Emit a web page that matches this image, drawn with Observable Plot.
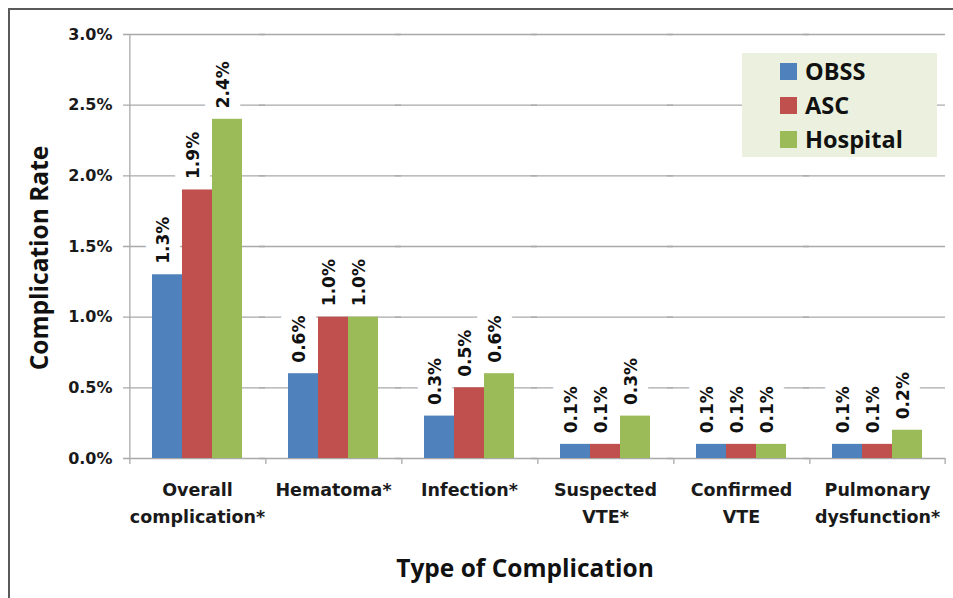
<!DOCTYPE html>
<html>
<head>
<meta charset="utf-8">
<script src="https://cdn.jsdelivr.net/npm/d3@7"></script>
<script src="https://cdn.jsdelivr.net/npm/@observablehq/plot@0.6"></script>
<style>
  html, body { margin: 0; padding: 0; background: #fff; }
  #wrap { position: relative; width: 953px; height: 598px; overflow: hidden; background: #fff; }
  #frame { position: absolute; left: 8px; top: 8px; right: -10px; bottom: -10px;
           border-top: 2px solid #5a5a5a; border-left: 2px solid #5a5a5a; }
  #chart { position: absolute; left: 0; top: 0; }
  .title { position: absolute; font-family: "Open Sans", sans-serif; font-weight: 700;
           font-size: 24.5px; line-height: 25px; color: #111; white-space: nowrap; }
  #ytitle { left: 38px; top: 258px; transform: translate(-50%, -50%) rotate(-90deg); }
  #xtitle { left: 525px; top: 555px; transform: translateX(-50%); }
  #legend { position: absolute; left: 742px; top: 53px; width: 195px; height: 104px;
            background: #ebf1de; }
  .item { position: absolute; left: 38px; height: 30px; display: flex; align-items: center;
          font-family: "Open Sans", sans-serif; font-weight: 700; font-size: 23.5px; color: #111; }
  .sw { width: 17px; height: 17px; margin-right: 8px; }
</style>
</head>
<body>
<div id="wrap">
  <div id="frame"></div>
  <div id="chart"></div>
  <div id="ytitle" class="title">Complication Rate</div>
  <div id="xtitle" class="title">Type of Complication</div>
  <div id="legend"></div>
</div>
<script>
const categories = ["Overall complication*", "Hematoma*", "Infection*", "Suspected VTE*", "Confirmed VTE", "Pulmonary dysfunction*"];
const categoryLabels = ["Overall\ncomplication*", "Hematoma*", "Infection*", "Suspected\nVTE*", "Confirmed\nVTE", "Pulmonary\ndysfunction*"];
const seriesNames = ["OBSS", "ASC", "Hospital"];
const obss = [1.3, 0.6, 0.3, 0.1, 0.1, 0.1];
const asc = [1.9, 1.0, 0.5, 0.1, 0.1, 0.1];
const hospital = [2.4, 1.0, 0.6, 0.3, 0.1, 0.2];
const seriesColors = ["#4F81BD", "#C0504D", "#9BBB59"];
const yTicks = [0, 0.5, 1.0, 1.5, 2.0, 2.5, 3.0];

const seriesValues = [obss, asc, hospital];
const data = categories.flatMap((c, i) =>
  seriesNames.map((s, j) => ({category: c, series: s, value: seriesValues[j][i]})));

const W = 953, H = 598, mL = 127, mR = 6, mT = 34, mB = 140;
const gridColor = "#a9a9a9";
const po = 0.726;
const facetW = (W - mL - mR) / categories.length;
const step = facetW / (seriesNames.length + 2 * po);
const edgeOffset = po * step + step / 2;
const fmt = v => v.toFixed(1) + "%";
const labelFont = {fontSize: 17, fontWeight: "bold", fontFamily: "DejaVu Sans"};

const chart = Plot.plot({
  width: W, height: H,
  marginLeft: mL, marginRight: mR, marginTop: mT, marginBottom: mB,
  style: {background: "transparent", overflow: "visible"},
  fx: {domain: categories, padding: 0, label: null},
  x: {domain: seriesNames, paddingInner: 0, paddingOuter: po, axis: null},
  y: {domain: [0, 3], label: null},
  color: {domain: seriesNames, range: seriesColors},
  marks: [
    Plot.gridY(yTicks, {stroke: gridColor, strokeOpacity: 1, strokeWidth: 1.3, insetLeft: -6}),
    // y axis line (first facet only)
    Plot.ruleX([categories[0]], {fx: d => d, x: () => seriesNames[0], y1: 0, y2: 3,
      dx: -edgeOffset, stroke: gridColor, strokeWidth: 1.3}),
    // category boundary ticks
    Plot.ruleX(categories, {fx: d => d, x: () => seriesNames[0], y1: 0, y2: 0, insetBottom: -6,
      dx: -edgeOffset, stroke: gridColor, strokeWidth: 1.3}),
    Plot.ruleX([categories[categories.length - 1]], {fx: d => d, x: () => seriesNames[seriesNames.length - 1],
      y1: 0, y2: 0, insetBottom: -6, dx: edgeOffset, stroke: gridColor, strokeWidth: 1.3}),
    // label backgrounds
    Plot.text(data, {fx: "category", x: "series", y: "value", text: d => fmt(d.value),
      rotate: -90, textAnchor: "start", lineAnchor: "middle", dy: -11, dx: -4,
      fill: "white", stroke: "white", strokeWidth: 22, strokeLinejoin: "round", ...labelFont}),
    Plot.barY(data, {fx: "category", x: "series", y: "value", fill: "series"}),
    Plot.text(data, {fx: "category", x: "series", y: "value", text: d => fmt(d.value),
      rotate: -90, textAnchor: "start", lineAnchor: "middle", dy: -11, dx: -4,
      fill: "#111", ...labelFont}),
    Plot.axisY({ticks: yTicks, tickFormat: fmt, tickSize: 0, tickPadding: 17, label: null,
      fontSize: 16, fontWeight: "bold", fontFamily: "DejaVu Sans", fill: "#1a1a1a"}),
    Plot.axisFx({anchor: "bottom", tickSize: 0, tickPadding: 18, label: null,
      tickFormat: d => categoryLabels[categories.indexOf(d)], lineHeight: 1.55,
      fontSize: 17.5, fontWeight: "bold", fontFamily: "DejaVu Sans", fill: "#1a1a1a"})
  ]
});
document.getElementById("chart").appendChild(chart);

const legend = document.getElementById("legend");
seriesNames.forEach((s, i) => {
  const item = document.createElement("div");
  item.className = "item";
  item.style.top = (3 + i * 34) + "px";
  const sw = document.createElement("span");
  sw.className = "sw";
  sw.style.background = seriesColors[i];
  item.appendChild(sw);
  item.appendChild(document.createTextNode(s));
  legend.appendChild(item);
});
</script>
</body>
</html>
